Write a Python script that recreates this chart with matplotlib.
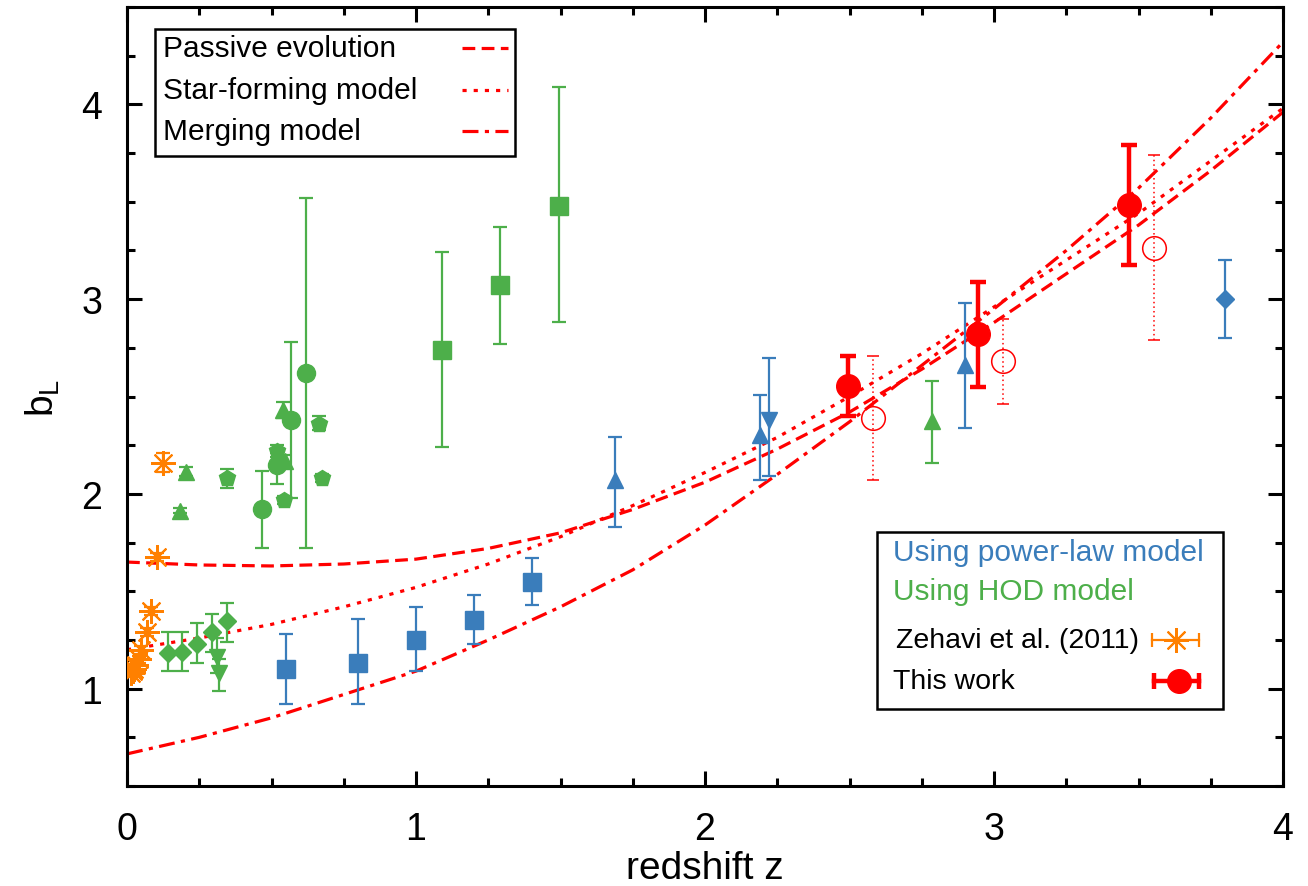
import numpy as np
import matplotlib
matplotlib.use("Agg")
import matplotlib.pyplot as plt
from matplotlib.patches import Rectangle

plt.rcParams['font.family'] = ['Liberation Sans', 'DejaVu Sans']

# model curves, every 0.25 in z
z_model = [0.0, 0.25, 0.5, 0.75, 1.0, 1.25, 1.5, 1.75, 2.0, 2.25, 2.5, 2.75, 3.0, 3.25, 3.5, 3.75, 4.0]
b_passive = [1.65, 1.635, 1.63, 1.64, 1.665, 1.72, 1.80, 1.92, 2.06, 2.23, 2.42, 2.64, 2.88, 3.13, 3.38, 3.66, 3.96]
b_starform = [1.20, 1.26, 1.33, 1.42, 1.52, 1.64, 1.78, 1.94, 2.11, 2.29, 2.50, 2.72, 2.96, 3.20, 3.44, 3.71, 3.98]
b_merging = [0.665, 0.75, 0.85, 0.97, 1.09, 1.25, 1.42, 1.61, 1.84, 2.10, 2.37, 2.66, 2.95, 3.25, 3.57, 3.93, 4.32]

# power-law model results (blue)
pl_sq_z = [0.55, 0.80, 1.00, 1.20, 1.40]
pl_sq_b = [1.10, 1.13, 1.25, 1.35, 1.55]
pl_sq_lo = [0.92, 0.92, 1.09, 1.23, 1.43]
pl_sq_hi = [1.28, 1.36, 1.42, 1.48, 1.67]

pl_tri_z = [1.69, 2.19, 2.90]
pl_tri_b = [2.07, 2.30, 2.66]
pl_tri_lo = [1.83, 2.07, 2.34]
pl_tri_hi = [2.29, 2.51, 2.98]

pl_dtri_z = [2.22]
pl_dtri_b = [2.38]
pl_dtri_lo = [2.09]
pl_dtri_hi = [2.70]

pl_dia_z = [3.80]
pl_dia_b = [3.00]
pl_dia_lo = [2.80]
pl_dia_hi = [3.20]

# HOD model results (green)
hod_sq_z = [1.09, 1.29, 1.495]
hod_sq_b = [2.74, 3.07, 3.48]
hod_sq_lo = [2.24, 2.77, 2.88]
hod_sq_hi = [3.24, 3.37, 4.09]

hod_circ_z = [0.467, 0.52, 0.567, 0.62]
hod_circ_b = [1.92, 2.15, 2.38, 2.62]
hod_circ_lo = [1.72, 2.05, 1.98, 1.72]
hod_circ_hi = [2.12, 2.21, 2.78, 3.52]

hod_tri_z = [0.183, 0.204, 0.54, 0.547, 2.785]
hod_tri_b = [1.91, 2.11, 2.43, 2.17, 2.376]
hod_tri_lo = [1.90, 2.09, 2.39, 2.14, 2.16]
hod_tri_hi = [1.93, 2.14, 2.47, 2.20, 2.58]

hod_dtri_z = [0.31, 0.32]
hod_dtri_b = [1.16, 1.08]
hod_dtri_lo = [1.08, 0.99]
hod_dtri_hi = [1.26, 1.15]

hod_dia_z = [0.143, 0.19, 0.243, 0.295, 0.346]
hod_dia_b = [1.185, 1.19, 1.23, 1.29, 1.345]
hod_dia_lo = [1.09, 1.09, 1.13, 1.19, 1.24]
hod_dia_hi = [1.29, 1.29, 1.335, 1.385, 1.44]

hod_pent_z = [0.346, 0.52, 0.543, 0.664, 0.675]
hod_pent_b = [2.08, 2.22, 1.97, 2.36, 2.08]
hod_pent_lo = [2.03, 2.19, 1.95, 2.33, 2.06]
hod_pent_hi = [2.13, 2.25, 1.99, 2.40, 2.10]

# Zehavi et al. (2011)
zeh_z = [0.015, 0.02, 0.025, 0.03, 0.04, 0.05, 0.068, 0.083, 0.104, 0.125]
zeh_b = [1.08, 1.09, 1.10, 1.12, 1.15, 1.20, 1.29, 1.40, 1.675, 2.16]
zeh_err = [0.02, 0.02, 0.02, 0.02, 0.02, 0.02, 0.02, 0.02, 0.02, 0.05]

# this work
tw_z = [2.495, 2.945, 3.467]
tw_b = [2.555, 2.82, 3.485]
tw_lo = [2.40, 2.55, 3.175]
tw_hi = [2.71, 3.09, 3.79]

tw2_z = [2.58, 3.03, 3.555]
tw2_b = [2.39, 2.68, 3.26]
tw2_lo = [2.07, 2.46, 2.79]
tw2_hi = [2.71, 2.90, 3.74]

model_labels = ['Passive evolution', 'Star-forming model', 'Merging model']

BLUE = '#3a7dbb'
GREEN = '#4daf4a'
ORANGE = '#ff8000'
RED = '#ff0000'

ASTER = (8, 2, 0)
DASH = (4, 2)
DOT = (1.3, 2.2)
DASHDOT = (5, 2, 1.3, 2)


def yerr(b, lo, hi):
  b = np.array(b)
  return [b - np.array(lo), np.array(hi) - b]


fig = plt.figure(figsize=(13.08, 8.87), dpi=100)
ax = fig.add_axes([0.0971, 0.1127, 0.8838, 0.8783])

# models
ax.plot(z_model, b_passive, color=RED, lw=2.3, dashes=DASH)
ax.plot(z_model, b_starform, color=RED, lw=2.3, dashes=DOT)
ax.plot(z_model, b_merging, color=RED, lw=2.3, dashes=DASHDOT)

ekw = dict(ls='none', elinewidth=1.6, capthick=1.6, capsize=5, zorder=5)

ax.errorbar(pl_sq_z, pl_sq_b, yerr=yerr(pl_sq_b, pl_sq_lo, pl_sq_hi), fmt='s', ms=13, color=BLUE, **ekw)
ax.errorbar(pl_tri_z, pl_tri_b, yerr=yerr(pl_tri_b, pl_tri_lo, pl_tri_hi), fmt='^', ms=12, color=BLUE, **ekw)
ax.errorbar(pl_dtri_z, pl_dtri_b, yerr=yerr(pl_dtri_b, pl_dtri_lo, pl_dtri_hi), fmt='v', ms=12, color=BLUE, **ekw)
ax.errorbar(pl_dia_z, pl_dia_b, yerr=yerr(pl_dia_b, pl_dia_lo, pl_dia_hi), fmt='D', ms=9, color=BLUE, **ekw)

ax.errorbar(hod_sq_z, hod_sq_b, yerr=yerr(hod_sq_b, hod_sq_lo, hod_sq_hi), fmt='s', ms=13, color=GREEN, **ekw)
ax.errorbar(hod_circ_z, hod_circ_b, yerr=yerr(hod_circ_b, hod_circ_lo, hod_circ_hi), fmt='o', ms=13, color=GREEN, **ekw)
ax.errorbar(hod_tri_z, hod_tri_b, yerr=yerr(hod_tri_b, hod_tri_lo, hod_tri_hi), fmt='^', ms=12, color=GREEN, **ekw)
ax.errorbar(hod_dtri_z, hod_dtri_b, yerr=yerr(hod_dtri_b, hod_dtri_lo, hod_dtri_hi), fmt='v', ms=12, color=GREEN, **ekw)
ax.errorbar(hod_dia_z, hod_dia_b, yerr=yerr(hod_dia_b, hod_dia_lo, hod_dia_hi), fmt='D', ms=9, color=GREEN, **ekw)
ax.errorbar(hod_pent_z, hod_pent_b, yerr=yerr(hod_pent_b, hod_pent_lo, hod_pent_hi), fmt='p', ms=12, color=GREEN, **ekw)

ax.errorbar(zeh_z, zeh_b, yerr=zeh_err, fmt='none', ecolor=ORANGE, **ekw)
ax.plot(zeh_z, zeh_b, ls='none', marker=ASTER, ms=18, mew=1.5, color=ORANGE, zorder=6)

# open circles with dotted error bars
eb = ax.errorbar(tw2_z, tw2_b, yerr=yerr(tw2_b, tw2_lo, tw2_hi), fmt='o', ms=17, mfc='none', mec=RED, mew=1.1,
                 ecolor=RED, elinewidth=1.1, capsize=4, capthick=1.1, zorder=6)
eb[2][0].set_linestyle((0, (1, 2)))

ax.errorbar(tw_z, tw_b, yerr=yerr(tw_b, tw_lo, tw_hi), fmt='o', ms=17, color=RED,
            elinewidth=3.2, capsize=6, capthick=3.2, zorder=7)

ax.set_xlim(0, 4)
ax.set_ylim(0.5, 4.5)
ax.set_xticks([0, 1, 2, 3, 4])
ax.set_yticks([1, 2, 3, 4])
ax.set_xticks(np.arange(0, 4.01, 0.25), minor=True)
ax.set_yticks(np.arange(0.5, 4.51, 0.25), minor=True)
ax.tick_params(which='both', direction='in', top=True, right=True, width=2.2)
ax.tick_params(which='major', length=11, labelsize=27, pad=18)
ax.tick_params(which='minor', length=6)
for s in ax.spines.values():
  s.set_linewidth(2.2)

ax.set_xlabel('redshift z', fontsize=28, labelpad=2)
ax.set_ylabel(r'$\mathregular{b_L}$', fontsize=28, labelpad=14)

T = ax.transAxes

# model legend box (top left), text on the left, line sample on the right
ax.add_patch(Rectangle((0.0242, 0.8087), 0.3114, 0.1631, transform=T, fc='white', ec='black', lw=1.8, zorder=10))
rows = [0.9474, 0.8935, 0.8408]
for lab, dsh, yy in zip(model_labels, [DASH, DOT, DASHDOT], rows):
  ax.text(0.0311, yy, lab, transform=T, fontsize=21.5, va='center', ha='left', zorder=11)
  ax.plot([0.2898, 0.3296], [yy, yy], transform=T, color=RED, lw=2.3, dashes=dsh, zorder=11, clip_on=False)

# data legend box (bottom right)
ax.add_patch(Rectangle((0.6488, 0.0988), 0.2993, 0.2273, transform=T, fc='white', ec='black', lw=1.8, zorder=10))
ax.text(0.6626, 0.3004, 'Using power-law model', transform=T, fontsize=21.5, color=BLUE, va='center', zorder=11)
ax.text(0.6626, 0.2503, 'Using HOD model', transform=T, fontsize=21.5, color=GREEN, va='center', zorder=11)
ax.text(0.6650, 0.1874, 'Zehavi et al. (2011)', transform=T, fontsize=20.5, va='center', zorder=11)
ax.text(0.6626, 0.1348, 'This work', transform=T, fontsize=20.5, va='center', zorder=11)

ax.plot([0.8866, 0.9273], [0.1874, 0.1874], transform=T, color=ORANGE, lw=1.6, zorder=11)
ax.plot([0.8866, 0.9273], [0.1874, 0.1874], transform=T, ls='none', marker='|', ms=10, mew=1.6, color=ORANGE, zorder=11)
ax.plot([0.9075], [0.1874], transform=T, ls='none', marker=ASTER, ms=18, mew=1.5, color=ORANGE, zorder=12)

ax.plot([0.8880, 0.9273], [0.1348, 0.1348], transform=T, color=RED, lw=3.2, zorder=11)
ax.plot([0.8880, 0.9273], [0.1348, 0.1348], transform=T, ls='none', marker='|', ms=12, mew=3.2, color=RED, zorder=11)
ax.plot([0.9100], [0.1348], transform=T, ls='none', marker='o', ms=17, color=RED, zorder=12)

fig.savefig('out.png', dpi=100)
